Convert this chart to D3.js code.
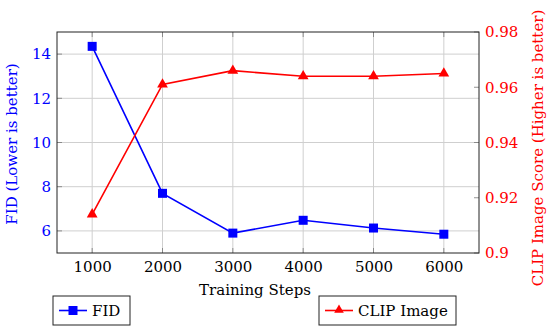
<!DOCTYPE html>
<html><head><meta charset="utf-8">
<script src="https://cdn.jsdelivr.net/npm/d3@7"></script>
<style>body{margin:0;background:#fff}svg{display:block}text{font-family:"DejaVu Serif",serif}</style>
</head><body><svg id="c" width="550" height="329"></svg>
<script>
const steps = [1000, 2000, 3000, 4000, 5000, 6000];
const fid = [14.35, 7.7, 5.9, 6.48, 6.13, 5.85];
const clip = [0.914, 0.961, 0.966, 0.964, 0.964, 0.965];
const xTicks = [1000, 2000, 3000, 4000, 5000, 6000];
const leftTicks = [6, 8, 10, 12, 14];
const rightTicks = [0.9, 0.92, 0.94, 0.96, 0.98];

const FONT = "DejaVu Serif";
const FS = 15;
const svg = d3.select("#c");
const L = 57, R = 479, T = 32, B = 253;
const x = d3.scaleLinear().domain([500, 6500]).range([L, R]);
const yL = d3.scaleLinear().domain([5, 15]).range([B, T]);
const yR = d3.scaleLinear().domain([0.9, 0.98]).range([B, T]);
const BLUE = "#0000ff", RED = "#ff0000";

// grid
const g = svg.append("g");
g.selectAll(".vg").data(xTicks).join("line")
  .attr("x1", d => x(d)).attr("x2", d => x(d)).attr("y1", T).attr("y2", B)
  .attr("stroke", "#cfcfcf").attr("stroke-width", 1);
g.selectAll(".hg").data(leftTicks).join("line")
  .attr("x1", L).attr("x2", R).attr("y1", d => yL(d)).attr("y2", d => yL(d))
  .attr("stroke", "#cfcfcf").attr("stroke-width", 1);

// tick marks (inside)
const tk = svg.append("g").attr("stroke", "#777").attr("stroke-width", 0.8);
xTicks.forEach(d => {
  tk.append("line").attr("x1", x(d)).attr("x2", x(d)).attr("y1", B).attr("y2", B - 5);
  tk.append("line").attr("x1", x(d)).attr("x2", x(d)).attr("y1", T).attr("y2", T + 5);
});
leftTicks.forEach(d => {
  tk.append("line").attr("x1", L).attr("x2", L + 5).attr("y1", yL(d)).attr("y2", yL(d));
});
rightTicks.forEach(d => {
  tk.append("line").attr("x1", R).attr("x2", R - 5).attr("y1", yR(d)).attr("y2", yR(d));
});

// frame
svg.append("rect").attr("x", L).attr("y", T).attr("width", R - L).attr("height", B - T)
  .attr("fill", "none").attr("stroke", "#222").attr("stroke-width", 1);

// axes labels via d3 axes (text only)
const axB = svg.append("g").attr("transform", `translate(0,${B})`)
  .call(d3.axisBottom(x).tickValues(xTicks).tickSize(0).tickPadding(8).tickFormat(d3.format("d")));
axB.attr("font-family", FONT);
axB.select(".domain").remove();
axB.selectAll("text").attr("font-size", FS).attr("fill", "#000");

const axL = svg.append("g").attr("transform", `translate(${L},0)`)
  .call(d3.axisLeft(yL).tickValues(leftTicks).tickSize(0).tickPadding(6).tickFormat(d3.format("d")));
axL.attr("font-family", FONT);
axL.select(".domain").remove();
axL.selectAll("text").attr("font-size", FS).attr("fill", BLUE);

const axR = svg.append("g").attr("transform", `translate(${R},0)`)
  .call(d3.axisRight(yR).tickValues(rightTicks).tickSize(0).tickPadding(6).tickFormat(d => d3.format("")(+d.toFixed(2))));
axR.attr("font-family", FONT);
axR.select(".domain").remove();
axR.selectAll("text").attr("font-size", FS).attr("fill", RED);

// axis titles
svg.append("text").attr("x", 255).attr("y", 295).attr("text-anchor", "middle")
  .attr("font-size", FS).attr("fill", "#000").text("Training Steps");
svg.append("text").attr("transform", "translate(17,144) rotate(-90)").attr("text-anchor", "middle")
  .attr("font-size", FS).attr("fill", BLUE).text("FID (Lower is better)");
svg.append("text").attr("transform", "translate(543,148) rotate(-90)").attr("text-anchor", "middle")
  .attr("font-size", FS).attr("fill", RED).text("CLIP Image Score (Higher is better)");

// lines
const lineF = d3.line().x((d, i) => x(steps[i])).y(d => yL(d));
const lineC = d3.line().x((d, i) => x(steps[i])).y(d => yR(d));
svg.append("path").attr("d", lineF(fid)).attr("fill", "none").attr("stroke", BLUE).attr("stroke-width", 1.6);
svg.append("path").attr("d", lineC(clip)).attr("fill", "none").attr("stroke", RED).attr("stroke-width", 1.6);

const sq = 9;
svg.selectAll(".sq").data(fid).join("rect")
  .attr("x", (d, i) => x(steps[i]) - sq / 2).attr("y", d => yL(d) - sq / 2)
  .attr("width", sq).attr("height", sq).attr("fill", BLUE);
const tri = d3.symbol().type(d3.symbolTriangle).size(50);
svg.selectAll(".tr").data(clip).join("path")
  .attr("transform", (d, i) => `translate(${x(steps[i])},${yR(d)})`)
  .attr("d", tri()).attr("fill", RED);

// legends
function legend(x0, w, color, label, marker) {
  const lg = svg.append("g");
  lg.append("rect").attr("x", x0).attr("y", 296).attr("width", w).attr("height", 29)
    .attr("fill", "#fff").attr("stroke", "#222").attr("stroke-width", 1);
  lg.append("line").attr("x1", x0 + 6).attr("x2", x0 + 34).attr("y1", 310.5).attr("y2", 310.5)
    .attr("stroke", color).attr("stroke-width", 1.6);
  if (marker === "sq") {
    lg.append("rect").attr("x", x0 + 20 - 4.5).attr("y", 306).attr("width", 9).attr("height", 9).attr("fill", color);
  } else {
    lg.append("path").attr("transform", `translate(${x0 + 20},${310})`).attr("d", d3.symbol().type(d3.symbolTriangle).size(40)()).attr("fill", color);
  }
  lg.append("text").attr("x", x0 + 39).attr("y", 316).attr("font-size", FS).attr("fill", "#000").text(label);
}
legend(53, 77, BLUE, "FID", "sq");
legend(319, 137, RED, "CLIP Image", "tri");
</script></body></html>
